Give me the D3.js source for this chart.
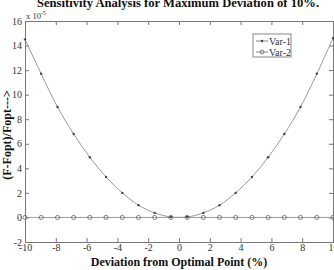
<!DOCTYPE html>
<html>
<head>
<meta charset="utf-8">
<script src="https://cdn.jsdelivr.net/npm/d3@7"></script>
<style>
  body { margin: 0; background: #fff; }
  svg text { font-family: "Liberation Serif", "Times New Roman", serif; }
</style>
</head>
<body>
<div id="viz"></div>
<script>
const deviation = [-10, -8.95, -7.89, -6.84, -5.79, -4.74, -3.68, -2.63, -1.58, -0.53,
  0.53, 1.58, 2.63, 3.68, 4.74, 5.79, 6.84, 7.89, 8.95, 10];
const var1 = [14.5, 11.7, 9.0, 6.8, 4.9, 3.3, 2.0, 1.0, 0.37, 0.04,
  0.04, 0.37, 1.0, 2.0, 3.3, 4.9, 6.8, 9.0, 11.7, 14.6];
const var2 = [0, 0, 0, 0, 0, 0, 0, 0, 0, 0, 0, 0, 0, 0, 0, 0, 0, 0, 0, 0];
const xTicks = [-10, -8, -6, -4, -2, 0, 2, 4, 6, 8, 10];
const yTicks = [-2, 0, 2, 4, 6, 8, 10, 12, 14, 16];
const seriesNames = ["Var-1", "Var-2"];

const width = 334,
  height = 270,
  plotLeft = 25,
  plotRight = 333,
  plotTop = 21,
  plotBottom = 242;

const svg = d3
  .select("#viz")
  .append("svg")
  .attr("width", width)
  .attr("height", height);

const xScale = d3.scaleLinear().domain([-10, 10]).range([plotLeft, plotRight]);
const yScale = d3.scaleLinear().domain([-2, 16]).range([plotBottom, plotTop]);

const axisColor = "#777";

// axes with inward ticks on all four sides
const xAxis = d3.axisBottom(xScale).tickValues(xTicks).tickSize(-4).tickPadding(2).tickFormat(d => d);
const yAxis = d3.axisLeft(yScale).tickValues(yTicks).tickSize(-4).tickPadding(3).tickFormat(d => d);

const gx = svg.append("g").attr("transform", `translate(0,${plotBottom})`).call(xAxis);
const gy = svg.append("g").attr("transform", `translate(${plotLeft},0)`).call(yAxis);
const gxTop = svg.append("g").attr("transform", `translate(0,${plotTop})`)
  .call(d3.axisTop(xScale).tickValues(xTicks).tickSize(-4).tickFormat(""));
const gyRight = svg.append("g").attr("transform", `translate(${plotRight},0)`)
  .call(d3.axisRight(yScale).tickValues(yTicks).tickSize(-4).tickFormat(""));

[gx, gy, gxTop, gyRight].forEach(g => {
  g.attr("font-family", null);
  g.select(".domain").attr("stroke", axisColor).attr("stroke-width", 1);
  g.selectAll(".tick line").attr("stroke", axisColor);
  g.selectAll(".tick text")
    .attr("fill", "#333")
    .style("font-size", "10px");
});

// exponent label
svg.append("text")
  .attr("x", plotLeft + 1)
  .attr("y", plotTop - 2)
  .attr("fill", "#333")
  .style("font-size", "8.5px")
  .text("x 10")
  .append("tspan")
  .attr("dy", -4)
  .style("font-size", "6px")
  .text("-5");

const line = d3.line()
  .x((d, i) => xScale(deviation[i]))
  .y(d => yScale(d))
  .curve(d3.curveCatmullRom);

svg.append("path")
  .datum(var2)
  .attr("d", line)
  .attr("fill", "none")
  .attr("stroke", "#999")
  .attr("stroke-width", 1);

svg.append("path")
  .datum(var1)
  .attr("d", line)
  .attr("fill", "none")
  .attr("stroke", "#999")
  .attr("stroke-width", 1);

svg.selectAll(".m2")
  .data(var2)
  .enter()
  .append("circle")
  .attr("class", "m2")
  .attr("cx", (d, i) => xScale(deviation[i]))
  .attr("cy", d => yScale(d))
  .attr("r", 2.1)
  .attr("fill", "none")
  .attr("stroke", "#777")
  .attr("stroke-width", 0.9);

svg.selectAll(".m1")
  .data(var1)
  .enter()
  .append("circle")
  .attr("class", "m1")
  .attr("cx", (d, i) => xScale(deviation[i]))
  .attr("cy", d => yScale(d))
  .attr("r", 1.2)
  .attr("fill", "#444");

// legend
const legend = svg.append("g").attr("transform", "translate(253,34)");
legend.append("rect")
  .attr("width", 38)
  .attr("height", 23)
  .attr("fill", "#fff")
  .attr("stroke", "#888");
seriesNames.forEach((name, i) => {
  const ly = 7 + i * 11;
  legend.append("line")
    .attr("x1", 3).attr("x2", 15)
    .attr("y1", ly).attr("y2", ly)
    .attr("stroke", "#888");
  if (i === 0) {
    legend.append("circle").attr("cx", 9).attr("cy", ly).attr("r", 1.2).attr("fill", "#444");
  } else {
    legend.append("circle").attr("cx", 9).attr("cy", ly).attr("r", 2)
      .attr("fill", "none").attr("stroke", "#777").attr("stroke-width", 0.9);
  }
  legend.append("text")
    .attr("x", 16)
    .attr("y", ly + 3.5)
    .attr("fill", "#333")
    .style("font-size", "10px")
    .text(name);
});

// title and labels
svg.append("text")
  .attr("x", 178)
  .attr("y", 7)
  .attr("text-anchor", "middle")
  .attr("fill", "#111")
  .style("font-size", "12.6px")
  .style("font-weight", "bold")
  .text("Sensitivity Analysis for Maximum Deviation of 10%.");

svg.append("text")
  .attr("x", 179)
  .attr("y", 266)
  .attr("text-anchor", "middle")
  .attr("fill", "#111")
  .style("font-size", "12px")
  .style("font-weight", "bold")
  .text("Deviation from Optimal Point (%)");

svg.append("text")
  .attr("transform", "translate(11,135) rotate(-90)")
  .attr("text-anchor", "middle")
  .attr("fill", "#111")
  .style("font-size", "12px")
  .style("font-weight", "bold")
  .text("(F-Fopt)/Fopt--->");
</script>
</body>
</html>
